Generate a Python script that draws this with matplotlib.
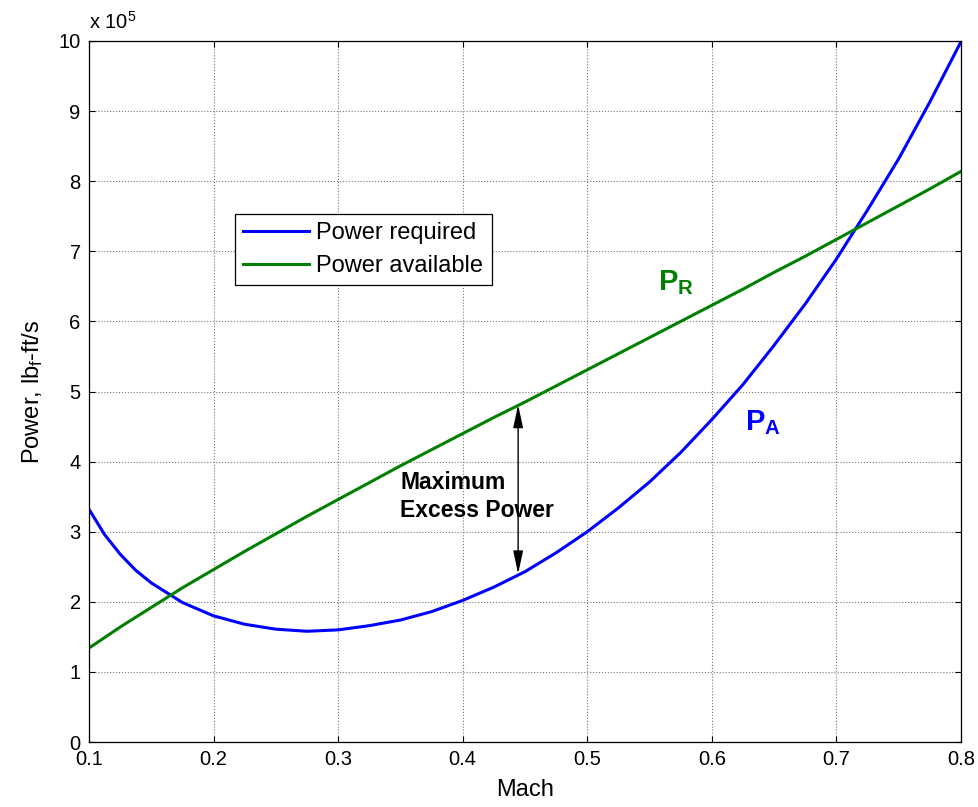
import matplotlib
matplotlib.use("Agg")
import matplotlib.pyplot as plt

plt.rcParams['font.family'] = ['Liberation Sans', 'DejaVu Sans']
plt.rcParams['mathtext.fontset'] = 'custom'
plt.rcParams['mathtext.rm'] = 'Liberation Sans'
plt.rcParams['mathtext.bf'] = 'Liberation Sans:bold'
plt.rcParams['mathtext.it'] = 'Liberation Sans:italic'

# Mach number samples
mach = [0.100, 0.1125, 0.125, 0.1375, 0.150, 0.175, 0.200, 0.225, 0.250, 0.275,
        0.300, 0.325, 0.350, 0.375, 0.400, 0.425, 0.450, 0.475, 0.500, 0.525,
        0.550, 0.575, 0.600, 0.625, 0.650, 0.675, 0.700, 0.725, 0.750, 0.775,
        0.800]

# power values in units of 1e5 lbf-ft/s
power_required = [3.32, 2.96, 2.68, 2.45, 2.27, 1.99, 1.80, 1.68, 1.61, 1.58,
                  1.60, 1.66, 1.74, 1.86, 2.02, 2.21, 2.43, 2.70, 3.00, 3.34,
                  3.71, 4.13, 4.60, 5.10, 5.66, 6.25, 6.89, 7.59, 8.32, 9.13,
                  9.99]
power_available = [1.34, 1.49, 1.64, 1.78, 1.92, 2.20, 2.46, 2.72, 2.97, 3.22,
                   3.46, 3.70, 3.94, 4.17, 4.40, 4.63, 4.85, 5.08, 5.31, 5.54,
                   5.77, 6.00, 6.23, 6.46, 6.70, 6.93, 7.17, 7.41, 7.65, 7.89,
                   8.14]

# max excess power marker
arrow_mach = 0.4445
arrow_top = 4.81
arrow_bottom = 2.40

fig = plt.figure(figsize=(9.79, 8.07), dpi=100)
ax = fig.add_axes([0.0909, 0.0805, 0.8907, 0.8687])

ax.plot(mach, power_required, color='#0000ff', lw=2.2, label='Power required')
ax.plot(mach, power_available, color='#008000', lw=2.2, label='Power available')

ax.set_xlim(0.1, 0.8)
ax.set_ylim(0, 10)
ax.set_xticks([0.1, 0.2, 0.3, 0.4, 0.5, 0.6, 0.7, 0.8])
ax.set_xticklabels(['0.1', '0.2', '0.3', '0.4', '0.5', '0.6', '0.7', '0.8'])
ax.set_yticks(range(11))
ax.grid(True, color='#777777', linestyle=':', linewidth=0.8)
ax.tick_params(direction='in', length=4, width=0.8, labelsize=14.5,
               top=True, right=True, pad=6)
for s in ax.spines.values():
    s.set_linewidth(0.9)

ax.text(0.0, 1.012, r'x 10$^\mathregular{5}$', transform=ax.transAxes,
        fontsize=14.5, ha='left', va='bottom')

ax.set_xlabel('Mach', fontsize=17, labelpad=7)
ax.set_ylabel(r'Power, lb$_\mathregular{f}$-ft/s', fontsize=17, labelpad=10)

leg = ax.legend(loc='upper left', bbox_to_anchor=(0.1674, 0.7532),
                borderaxespad=0, fancybox=False, edgecolor='black',
                framealpha=1, fontsize=17, handlelength=2.8,
                handletextpad=0.3, labelspacing=0.45, borderpad=0.35)
leg.get_frame().set_linewidth(0.9)

ax.annotate('', xy=(arrow_mach, arrow_top), xytext=(arrow_mach, arrow_bottom),
            arrowprops=dict(arrowstyle='<|-|>,head_length=1.4,head_width=0.3',
                            color='black', lw=1.0, shrinkA=0, shrinkB=0))
ax.text(0.35, 3.5, 'Maximum\nExcess Power', fontsize=16.5, fontweight='bold',
        ha='left', va='center', linespacing=1.3)

ax.text(0.5567, 6.45, r'$\mathbf{P_R}$', fontsize=21, color='#008000',
        ha='left', va='baseline')
ax.text(0.627, 4.45, r'$\mathbf{P_A}$', fontsize=21, color='#0000ff',
        ha='left', va='baseline')

fig.savefig('out.png', dpi=100)
